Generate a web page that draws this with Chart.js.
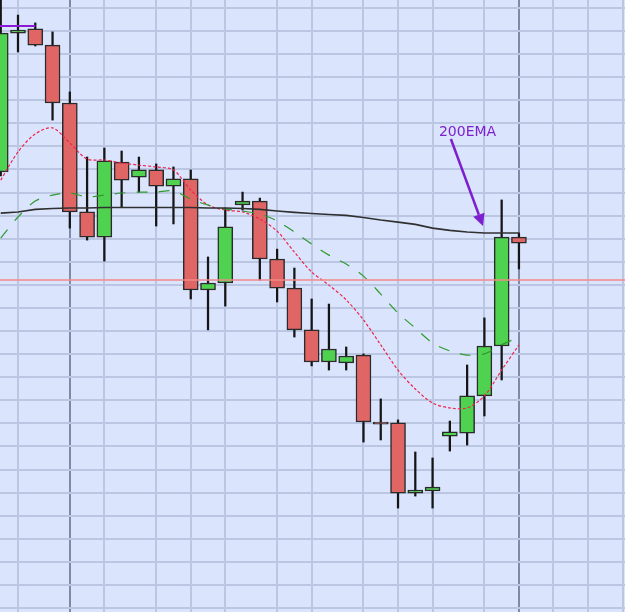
<!DOCTYPE html>
<html>
<head>
<meta charset="utf-8">
<script src="https://cdn.jsdelivr.net/npm/chart.js@4.4.1/dist/chart.umd.min.js"></script>
<style>
  html, body { margin: 0; padding: 0; background: #dae4fd; }
  canvas { display: block; }
</style>
</head>
<body>
<canvas id="c" width="625" height="612"></canvas>
<script>
// ---- data ----
const OPEN  = [1188.9,1249.1,1250.9,1243.9,1218.8,1171.6,1160.7,1193.2,1186.7,1189.8,1182.8,1185.9,1137.8,1140.8,1174.6,1176.3,1151.2,1138.6,1120.5,1106.6,1106.2,1109.6,1080.6,1080.2,1049.8,1050.7,1074.5,1075.8,1091.9,1113.5,1160.7];
const HIGH  = [1265.6,1256.9,1253.5,1249.6,1223.6,1195.4,1199.3,1198.0,1195.4,1192.4,1191.1,1189.8,1152.1,1173.3,1180.2,1177.6,1155.5,1147.3,1133.9,1131.7,1113.1,1110.1,1090.6,1081.5,1067.6,1065.0,1081.0,1105.3,1125.7,1176.8,1162.5];
const LOW   = [1187.2,1240.9,1243.5,1211.4,1164.6,1159.4,1150.3,1173.7,1180.2,1165.5,1166.4,1133.9,1120.5,1130.8,1172.4,1142.1,1132.6,1117.4,1104.9,1103.1,1103.1,1071.9,1072.8,1043.3,1048.5,1043.3,1068.0,1070.6,1083.2,1098.8,1146.9];
const CLOSE = [1249.1,1250.4,1243.9,1218.8,1171.6,1160.7,1193.7,1185.4,1189.8,1182.8,1185.9,1137.8,1140.8,1165.1,1176.3,1151.2,1138.6,1120.5,1106.6,1112.2,1109.2,1080.6,1079.7,1049.8,1051.1,1052.4,1076.3,1091.9,1113.5,1160.7,1158.1];
const EMA200 = [1171.1,1171.6,1172.7,1173.1,1173.3,1173.3,1173.5,1173.5,1173.5,1173.5,1173.5,1173.5,1173.3,1173.3,1173.1,1172.7,1172.0,1171.4,1170.9,1170.5,1170.1,1169.2,1168.1,1167.2,1166.2,1164.6,1163.6,1162.9,1162.5,1162.5,1162.5];
const EMA_FAST = [1185.4,1197.6,1205.4,1208.0,1201.5,1194.5,1194.1,1192.8,1191.9,1191.1,1189.8,1181.1,1174.6,1172.4,1171.6,1168.5,1163.3,1154.2,1145.6,1139.9,1133.5,1124.8,1114.0,1103.1,1094.9,1088.8,1086.7,1086.7,1091.9,1103.1,1114.0];
const EMA_SLOW = [1160.3,1169.4,1176.3,1178.9,1179.8,1178.1,1178.9,1179.8,1180.2,1180.2,1180.7,1177.2,1174.6,1172.9,1172.0,1170.7,1167.7,1162.9,1157.7,1152.9,1149.0,1143.8,1136.0,1127.8,1121.3,1114.8,1111.4,1109.6,1110.1,1114.0,1117.4];
const LEVEL_RED = 1142.1;          // horizontal red level
const LEVEL_PURPLE = 1252.2;       // short purple level at top left
const PURPLE_FROM = -1, PURPLE_TO = 2;
const X_GRID = [1,4,6,9,11,13,16,18,21,23,25,28,30,32,34,36];
const X_GRID_DARK = [4,30];
const Y_TICKS = [];
for (let v = 1000; v <= 1260; v += 10) Y_TICKS.push(v);
const ANNOT_LABEL = '200EMA';
const ANNOT_TEXT_AT = [25.37, 1204.3];
const ANNOT_ARROW_FROM = [26.06, 1203.2];
const ANNOT_ARROW_TO = [27.92, 1165.5];

// ---- build datasets ----
const GREEN = '#4fd24f', RED = '#e06666';
const idx = OPEN.map((_, i) => i);
const isUp = idx.map(i => CLOSE[i] >= OPEN[i]);
const wicks = idx.map(i => ({x: i, y: [LOW[i], HIGH[i]]}));
const bodies = idx.map(i => ({x: i, y: [Math.min(OPEN[i], CLOSE[i]), Math.max(OPEN[i], CLOSE[i])]}));
const toPts = arr => arr.map((v, i) => ({x: i, y: v}));

const annotPlugin = {
  id: 'annot',
  afterDatasetsDraw(chart) {
    const {ctx, scales: {x, y}} = chart;
    const col = '#7d1fd0';
    ctx.save();
    ctx.fillStyle = col;
    ctx.font = '14px "DejaVu Sans", Verdana, sans-serif';
    ctx.textBaseline = 'alphabetic';
    ctx.fillText(ANNOT_LABEL, x.getPixelForValue(ANNOT_TEXT_AT[0]), y.getPixelForValue(ANNOT_TEXT_AT[1]));
    const x1 = x.getPixelForValue(ANNOT_ARROW_FROM[0]), y1 = y.getPixelForValue(ANNOT_ARROW_FROM[1]);
    const x2 = x.getPixelForValue(ANNOT_ARROW_TO[0]), y2 = y.getPixelForValue(ANNOT_ARROW_TO[1]);
    const ang = Math.atan2(y2 - y1, x2 - x1);
    const hl = 12, hw = 6;
    const bx = x2 - hl * Math.cos(ang), by = y2 - hl * Math.sin(ang);
    ctx.strokeStyle = col;
    ctx.lineWidth = 2.5;
    ctx.beginPath(); ctx.moveTo(x1, y1); ctx.lineTo(bx, by); ctx.stroke();
    ctx.beginPath();
    ctx.moveTo(x2, y2);
    ctx.lineTo(bx + hw * Math.sin(ang), by - hw * Math.cos(ang));
    ctx.lineTo(bx - hw * Math.sin(ang), by + hw * Math.cos(ang));
    ctx.closePath(); ctx.fill();
    ctx.restore();
  }
};

const bgPlugin = {
  id: 'bg',
  beforeDraw(chart) {
    const ctx = chart.ctx;
    ctx.save(); ctx.fillStyle = '#dae4fd'; ctx.fillRect(0, 0, chart.width, chart.height); ctx.restore();
  }
};

new Chart(document.getElementById('c'), {
  type: 'bar',
  data: {
    datasets: [
      { type: 'bar', data: wicks, backgroundColor: '#151515', barThickness: 1.6, order: 3, grouped: false },
      { type: 'bar', data: bodies, backgroundColor: idx.map(i => isUp[i] ? GREEN : RED),
        borderColor: '#2b2b2b', borderWidth: 1.5, borderSkipped: false, barThickness: 15, order: 2, grouped: false },
      { type: 'line', data: toPts(EMA200), borderColor: '#303030', borderWidth: 1.6, pointRadius: 0, tension: 0, order: 1 },
      { type: 'line', data: toPts(EMA_SLOW), borderColor: '#2e9a2e', borderWidth: 1.2, borderDash: [11, 11], pointRadius: 0, tension: 0.3, order: 1 },
      { type: 'line', data: toPts(EMA_FAST), borderColor: '#f0244c', borderWidth: 1.2, borderDash: [3, 2], pointRadius: 0, tension: 0.3, order: 1 },
      { type: 'line', data: [{x: -1, y: LEVEL_RED}, {x: 40, y: LEVEL_RED}], borderColor: '#f28888', borderWidth: 1.5, pointRadius: 0, order: 0 },
      { type: 'line', data: [{x: PURPLE_FROM, y: LEVEL_PURPLE}, {x: PURPLE_TO, y: LEVEL_PURPLE}], borderColor: '#8a1ad6', borderWidth: 2, pointRadius: 0, order: 0 }
    ]
  },
  options: {
    responsive: false,
    animation: false,
    devicePixelRatio: 1,
    layout: { padding: 0 },
    plugins: { legend: { display: false }, tooltip: { enabled: false } },
    scales: {
      x: {
        type: 'linear', min: -0.042, max: 36.14, offset: false,
        ticks: { display: false },
        border: { display: false },
        grid: {
          drawTicks: false, offset: false,
          color: c => X_GRID_DARK.includes(c.tick.value) ? '#7d8aa8' : '#bac6e2',
          lineWidth: 2
        },
        afterBuildTicks: s => { s.ticks = X_GRID.map(v => ({value: v})); }
      },
      y: {
        type: 'linear', min: 998.27, max: 1263.43,
        ticks: { display: false },
        border: { display: false },
        grid: { drawTicks: false, color: '#bac6e2', lineWidth: 2 },
        afterBuildTicks: s => { s.ticks = Y_TICKS.map(v => ({value: v})); }
      }
    }
  },
  plugins: [bgPlugin, annotPlugin]
});
</script>
</body>
</html>
